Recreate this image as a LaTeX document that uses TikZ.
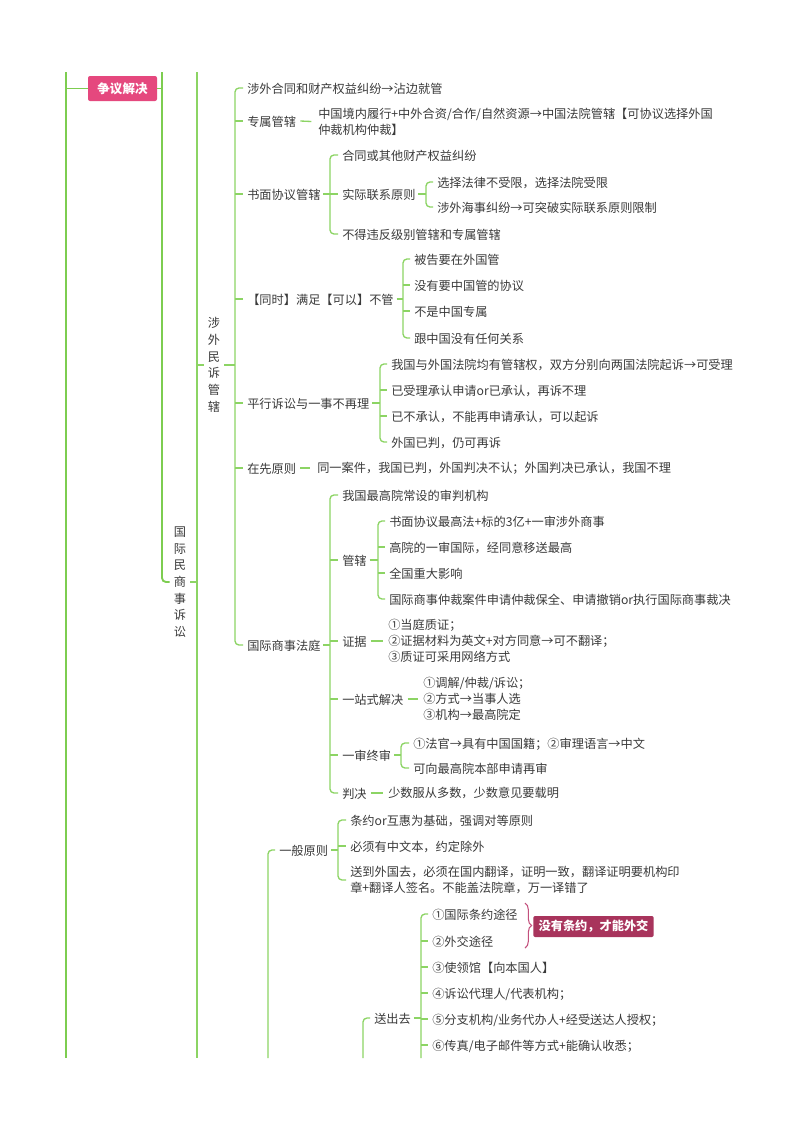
\documentclass[tikz,border=0pt]{standalone}
\usepackage{fontspec}
\setmainfont{Noto Sans CJK SC}
\usepackage{tikz}
\usetikzlibrary{decorations.pathreplacing}

\definecolor{mapgreen}{RGB}{140,212,100}
\definecolor{trunkgreen}{RGB}{125,205,80}
\definecolor{maptext}{RGB}{58,58,58}
\definecolor{rootpink}{RGB}{229,72,126}
\definecolor{notered}{RGB}{168,52,92}
\definecolor{bracepink}{RGB}{195,80,125}

\begin{document}
\begin{tikzpicture}[x=0.75pt, y=-0.75pt,
    every node/.style={font=\fontsize{9.15}{12}\selectfont, text=maptext},
    topic/.style={anchor=west, inner sep=0pt, text height=0.88em, text depth=0.12em},
    para/.style={anchor=west, inner sep=0pt, align=left},
    vtopic/.style={inner sep=1pt, align=center, font=\fontsize{9.15}{12.5}\selectfont},
    branch/.style={draw=mapgreen, line width=1pt, rounded corners=3pt},
    trunk/.style={draw=trunkgreen, line width=1.4pt, rounded corners=3pt},
    rootbox/.style={fill=rootpink, text=white, font=\fontsize{9.4}{12}\selectfont\bfseries,
        rounded corners=1.5pt, minimum width=51.75pt, minimum height=18.75pt, inner sep=0pt},
    notebox/.style={fill=notered, text=white, font=\fontsize{9.15}{12}\selectfont\bfseries,
        rounded corners=1.5pt, minimum height=15.75pt, inner xsep=4pt, inner ysep=0pt, anchor=west}]

    \fill[white] (0,0) rectangle (800,1132);

    % --- 左侧主干 ---
    \coordinate (t66) at (66,72);
    \coordinate (b66) at (66,1058);
    \coordinate (t162) at (162,72);
    \coordinate (t197) at (197,72);
    \coordinate (b197) at (197,1058);
    \draw[trunk] (t66) -- (b66);
    \node[rootbox] (zyjj) at (122.5,88.5) {争议解决};
    \draw[trunk] (zyjj.west -| t66) -- (zyjj.west);
    \draw[trunk] (zyjj.east) -- (zyjj.east -| t162);

    \node[vtopic] (gjms) at (180,582) {国\\际\\民\\商\\事\\诉\\讼};
    \draw[trunk] (t162) |- ([xshift=-2pt]gjms.west);
    \draw[branch] (t197) -- (b197);
    \draw[branch] ([xshift=2pt]gjms.east) -- (gjms.east -| t197);

    \node[vtopic] (swms) at (214,365) {涉\\外\\民\\诉\\管\\辖};
    \draw[branch] (swms.west -| t197) -- ([xshift=-2pt]swms.west);

    % --- 涉外民诉管辖 ---
    \coordinate (x235) at (235,0);
    \draw[branch] ([xshift=2pt]swms.east) -- (swms.east -| x235);
    \node[topic] (hetong) at (247,88) {涉外合同和财产权益纠纷→沾边就管};
    \node[topic] (zhuanshu) at (247,121) {专属管辖};
    \node[para] (zhuanshuT) at (318,121.5) {中国境内履行+中外合资/合作/自然资源→中国法院管辖【可协议选择外国\\仲裁机构仲裁】};
    \node[topic] (shumian) at (247,194) {书面协议管辖};
    \node[topic] (buguan) at (247,299) {【同时】满足【可以】不管};
    \node[topic] (pingxing) at (247,403) {平行诉讼与一事不再理};
    \node[topic] (zaixian) at (247,468) {在先原则};
    \node[para] (zaixianT) at (317,468) {同一案件，我国已判，外国判决不认；外国判决已承认，我国不理};
    \node[topic] (fating) at (247,645) {国际商事法庭};
    \draw[branch] ([xshift=-3pt]hetong.west) -| (x235 |- fating.west) -- ([xshift=-3pt]fating.west);
    \foreach \c in {zhuanshu,shumian,buguan,pingxing,zaixian}
        \draw[branch] (\c.west -| x235) -- ([xshift=-3pt]\c.west);
    \draw[branch] ([xshift=3pt]zhuanshu.east) -- ([xshift=-5pt]zhuanshuT.west);
    \draw[branch] ([xshift=3pt]zaixian.east) -- ([xshift=-5pt]zaixianT.west);

    % 书面协议管辖
    \coordinate (x330) at (330,0);
    \node[topic] (sm1) at (342,155) {合同或其他财产权益纠纷};
    \node[topic] (sm2) at (342,194) {实际联系原则};
    \node[topic] (sm3) at (342,234) {不得违反级别管辖和专属管辖};
    \draw[branch] ([xshift=2pt]shumian.east) -- (shumian.east -| x330);
    \draw[branch] ([xshift=-3pt]sm1.west) -| (x330 |- sm3.west) -- ([xshift=-3pt]sm3.west);
    \draw[branch] (sm2.west -| x330) -- ([xshift=-3pt]sm2.west);
    \coordinate (x426) at (426,0);
    \node[topic] (sm2a) at (437,182) {选择法律不受限，选择法院受限};
    \node[topic] (sm2b) at (437,207) {涉外海事纠纷→可突破实际联系原则限制};
    \draw[branch] ([xshift=2pt]sm2.east) -- (sm2.east -| x426);
    \draw[branch] ([xshift=-3pt]sm2a.west) -| (x426 |- sm2b.west) -- ([xshift=-3pt]sm2b.west);

    % 【同时】满足【可以】不管
    \coordinate (x403) at (403,0);
    \node[topic] (bg1) at (414,259) {被告要在外国管};
    \node[topic] (bg2) at (414,285) {没有要中国管的协议};
    \node[topic] (bg3) at (414,311) {不是中国专属};
    \node[topic] (bg4) at (414,338) {跟中国没有任何关系};
    \draw[branch] ([xshift=2pt]buguan.east) -- (buguan.east -| x403);
    \draw[branch] ([xshift=-3pt]bg1.west) -| (x403 |- bg4.west) -- ([xshift=-3pt]bg4.west);
    \foreach \c in {bg2,bg3}
        \draw[branch] (\c.west -| x403) -- ([xshift=-3pt]\c.west);

    % 平行诉讼与一事不再理
    \coordinate (x380) at (380,0);
    \node[topic] (px1) at (391,364) {我国与外国法院均有管辖权，双方分别向两国法院起诉→可受理};
    \node[topic] (px2) at (391,390) {已受理承认申请or已承认，再诉不理};
    \node[topic] (px3) at (391,416) {已不承认，不能再申请承认，可以起诉};
    \node[topic] (px4) at (391,442) {外国已判，仍可再诉};
    \draw[branch] ([xshift=2pt]pingxing.east) -- (pingxing.east -| x380);
    \draw[branch] ([xshift=-3pt]px1.west) -| (x380 |- px4.west) -- ([xshift=-3pt]px4.west);
    \foreach \c in {px2,px3}
        \draw[branch] (\c.west -| x380) -- ([xshift=-3pt]\c.west);

    % --- 国际商事法庭 ---
    \node[topic] (ft1) at (342,495) {我国最高院常设的审判机构};
    \node[topic] (guanxia) at (342,560) {管辖};
    \node[topic] (zhengju) at (342,641) {证据};
    \node[para] (zhengjuT) at (388,641) {①当庭质证；\\②证据材料为英文+对方同意→可不翻译；\\③质证可采用网络方式};
    \node[topic] (yizhan) at (342,699) {一站式解决};
    \node[para] (yizhanT) at (423,699) {①调解/仲裁/诉讼；\\②方式→当事人选\\③机构→最高院定};
    \node[topic] (zhongshen) at (342,755) {一审终审};
    \node[topic] (panjue) at (342,793) {判决};
    \node[para] (panjueT) at (388,793) {少数服从多数，少数意见要载明};
    \draw[branch] ([xshift=2pt]fating.east) -- (fating.east -| x330);
    \draw[branch] ([xshift=-3pt]ft1.west) -| (x330 |- panjue.west) -- ([xshift=-3pt]panjue.west);
    \foreach \c in {guanxia,zhengju,yizhan,zhongshen}
        \draw[branch] (\c.west -| x330) -- ([xshift=-3pt]\c.west);
    \draw[branch] ([xshift=3pt]zhengju.east) -- ([xshift=-4pt]zhengjuT.west);
    \draw[branch] ([xshift=3pt]yizhan.east) -- ([xshift=-4pt]yizhanT.west);
    \draw[branch] ([xshift=3pt]panjue.east) -- ([xshift=-4pt]panjueT.west);

    \coordinate (x378) at (378,0);
    \node[topic] (gx1) at (389,521) {书面协议最高法+标的3亿+一审涉外商事};
    \node[topic] (gx2) at (389,547) {高院的一审国际，经同意移送最高};
    \node[topic] (gx3) at (389,573) {全国重大影响};
    \node[topic] (gx4) at (389,599) {国际商事仲裁案件申请仲裁保全、申请撤销or执行国际商事裁决};
    \draw[branch] ([xshift=2pt]guanxia.east) -- (guanxia.east -| x378);
    \draw[branch] ([xshift=-3pt]gx1.west) -| (x378 |- gx4.west) -- ([xshift=-3pt]gx4.west);
    \foreach \c in {gx2,gx3}
        \draw[branch] (\c.west -| x378) -- ([xshift=-3pt]\c.west);

    \coordinate (x401) at (401,0);
    \node[topic] (zs1) at (413,743) {①法官→具有中国国籍；②审理语言→中文};
    \node[topic] (zs2) at (413,768) {可向最高院本部申请再审};
    \draw[branch] ([xshift=2pt]zhongshen.east) -- (zhongshen.east -| x401);
    \draw[branch] ([xshift=-3pt]zs1.west) -| (x401 |- zs2.west) -- ([xshift=-3pt]zs2.west);

    % --- 一般原则 ---
    \coordinate (x268) at (268,0);
    \node[topic] (yiban) at (279,850) {一般原则};
    \draw[branch] (x268 |- b197) |- ([xshift=-3pt]yiban.west);
    \coordinate (x338) at (338,0);
    \node[topic] (yb1) at (350,820) {条约or互惠为基础，强调对等原则};
    \node[topic] (yb2) at (350,846) {必须有中文本，约定除外};
    \node[para] (yb3) at (350,880) {送到外国去，必须在国内翻译，证明一致，翻译证明要机构印\\章+翻译人签名。不能盖法院章，万一译错了};
    \draw[branch] ([xshift=2pt]yiban.east) -- (yiban.east -| x338);
    \draw[branch] ([xshift=-3pt]yb1.west) -| (x338 |- yb3.west) -- ([xshift=-3pt]yb3.west);
    \draw[branch] (yb2.west -| x338) -- ([xshift=-3pt]yb2.west);

    % --- 送出去 ---
    \coordinate (x363) at (363,0);
    \node[topic] (songchu) at (374,1018) {送出去};
    \draw[branch] (x363 |- b197) |- ([xshift=-3pt]songchu.west);
    \coordinate (x421) at (421,0);
    \node[topic] (sc1) at (432,914) {①国际条约途径};
    \node[topic] (sc2) at (432,941) {②外交途径};
    \node[topic] (sc3) at (432,967) {③使领馆【向本国人】};
    \node[topic] (sc4) at (432,993) {④诉讼代理人/代表机构；};
    \node[topic] (sc5) at (432,1019) {⑤分支机构/业务代办人+经受送达人授权；};
    \node[topic] (sc6) at (432,1045) {⑥传真/电子邮件等方式+能确认收悉；};
    \draw[branch] ([xshift=2pt]songchu.east) -- (songchu.east -| x421);
    \draw[branch] ([xshift=-3pt]sc1.west) -| (x421 |- b197);
    \foreach \c in {sc2,sc3,sc4,sc5,sc6}
        \draw[branch] (\c.west -| x421) -- ([xshift=-3pt]\c.west);

    % 花括号与标注
    \coordinate (braceTop) at (525,903);
    \coordinate (braceBot) at (525,948);
    \draw[bracepink, line width=0.8pt, decorate, decoration={brace, amplitude=5pt}] (braceTop) -- (braceBot);
    \node[notebox] (tiaoyue) at (533,926.5) {没有条约，才能外交};
\end{tikzpicture}
\end{document}
